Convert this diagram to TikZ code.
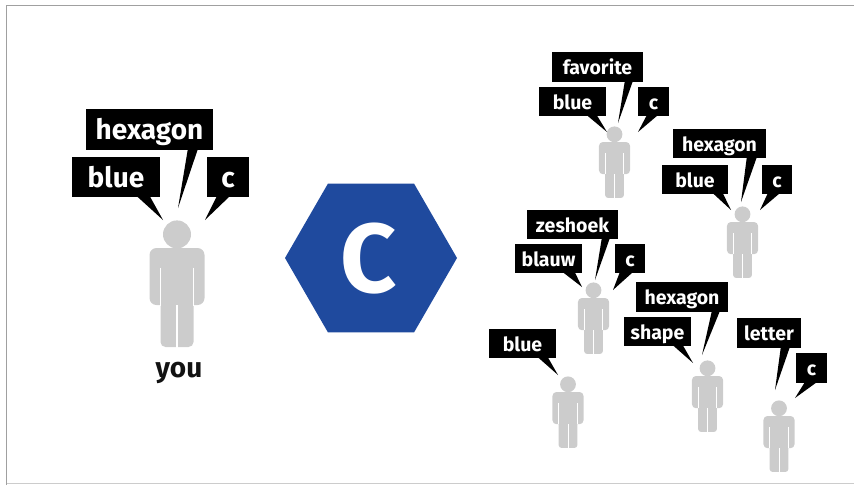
\documentclass[tikz,border=0pt]{standalone}
\usepackage{fontspec}
\setmainfont{Fira Sans}
\usetikzlibrary{calc,shapes.geometric}
\definecolor{figgray}{HTML}{CCCCCC}
\definecolor{hexblue}{RGB}{31,74,158}
\definecolor{framegray}{HTML}{A0A0A0}
\definecolor{framelight}{HTML}{CCCCCC}
\tikzset{
  callout/.style={fill=black, text=white, inner sep=0pt, align=center},
  bigcall/.style={callout, font=\fontsize{28}{30}\selectfont\bfseries, text height=20.5pt, text depth=0pt},
  smallcall/.style={callout, font=\fontsize{19.5}{22}\selectfont\bfseries, text height=15pt, text depth=0pt},
  wedge/.style={fill=black},
}
\newcommand\figperson[3]{%
  \begin{scope}[shift={(#1,#2)}, scale=#3]
    \fill[figgray] (0,-13.6) circle (14);
    \fill[figgray, rounded corners=#3*7pt] (-27.5,0) rectangle (27.5,57);
    \fill[figgray, rounded corners=#3*5pt] (-16.5,30) rectangle (16.5,99);
    \draw[white, line width=#3*1.3pt] (-16.5,19.5) -- (-16.5,57.5) (16.5,19.5) -- (16.5,57.5) (0,57) -- (0,99.5);
  \end{scope}}
\newcommand\wedgeto[4]{% box, offset1, offset2, tip
  \fill[wedge] ($(#1.south west)+(#2,-1)$) -- (#4) -- ($(#1.south west)+(#3,-1)$) -- cycle;}
\begin{document}
\begin{tikzpicture}[x=1pt, y=-1pt]
\useasboundingbox (0,0) rectangle (854,485);
% frame
\draw[framegray, line width=1.5pt] (6.5,485) -- (6.5,5.5) -- (854,5.5);
\draw[framelight, line width=1.2pt] (6.5,483.5) -- (854,483.5);

% main person
\figperson{177}{248}{1}
\node[font=\fontsize{28}{32}\selectfont\bfseries, text=black!93, anchor=base] (you) at (179,377) {you};
\node[bigcall, minimum width=127pt, minimum height=41pt] (m1) at (149.5,129.5) {hexagon};
\node[bigcall, minimum width=88pt, minimum height=40pt] (m2) at (116,177) {blue};
\node[bigcall, minimum width=42pt, minimum height=40pt] (m3) at (228,177) {c};
\coordinate (m1t) at (178,208);
\coordinate (m2t) at (163,220);
\coordinate (m3t) at (205,220);
\wedgeto{m1}{102}{112}{m1t}
\wedgeto{m2}{65}{78}{m2t}
\wedgeto{m3}{10}{23}{m3t}

% hexagon
\node[regular polygon, regular polygon sides=6, minimum size=172pt, fill=hexblue, inner sep=0pt] (hex) at (371,258) {};
\node[font=\fontsize{98}{100}\selectfont\bfseries, text=white, anchor=base, inner sep=0pt] (hexc) at (369,292) {C};

% crowd persons
\figperson{614.5}{142}{0.565}
\figperson{742.5}{222}{0.565}
\figperson{593.5}{298}{0.565}
\figperson{568}{392}{0.565}
\figperson{707.5}{376}{0.565}
\figperson{779}{416}{0.565}

% person A
\node[smallcall, minimum width=91pt, minimum height=30pt] (a1) at (597.5,67) {favorite};
\node[smallcall, minimum width=67pt, minimum height=29pt] (a2) at (572.5,101.5) {blue};
\node[smallcall, minimum width=31pt, minimum height=29pt] (a3) at (653.5,101.5) {c};
\coordinate (a1t) at (618,123);
\coordinate (a2t) at (607,132);
\coordinate (a3t) at (638,132);
\wedgeto{a1}{73}{81}{a1t}
\wedgeto{a2}{48}{58}{a2t}
\wedgeto{a3}{9}{20}{a3t}

% person B
\node[smallcall, minimum width=93pt, minimum height=29pt] (b1) at (719.5,143.5) {hexagon};
\node[smallcall, minimum width=66pt, minimum height=29pt] (b2) at (695,179.5) {blue};
\node[smallcall, minimum width=30pt, minimum height=29pt] (b3) at (777,179.5) {c};
\coordinate (b1t) at (741,202);
\coordinate (b2t) at (731,210);
\coordinate (b3t) at (760,210);
\wedgeto{b1}{74}{84}{b1t}
\wedgeto{b2}{51}{61}{b2t}
\wedgeto{b3}{6}{18}{b3t}

% person C
\node[smallcall, minimum width=91pt, minimum height=29pt] (c1) at (572.5,224.5) {zeshoek};
\node[smallcall, minimum width=67pt, minimum height=29pt] (c2) at (548.5,258.5) {blauw};
\node[smallcall, minimum width=30pt, minimum height=29pt] (c3) at (630,258.5) {c};
\coordinate (c1t) at (595,280);
\coordinate (c2t) at (582,287);
\coordinate (c3t) at (613,290);
\wedgeto{c1}{75}{83}{c1t}
\wedgeto{c2}{48}{60}{c2t}
\wedgeto{c3}{5}{18}{c3t}

% person D
\node[smallcall, minimum width=67pt, minimum height=29pt] (d1) at (522.5,343.5) {blue};
\coordinate (d1t) at (558,375);
\wedgeto{d1}{49}{59}{d1t}

% person E
\node[smallcall, minimum width=92pt, minimum height=30pt] (e1) at (682,297) {hexagon};
\node[smallcall, minimum width=67pt, minimum height=29pt] (e2) at (657.5,331.5) {shape};
\coordinate (e1t) at (702,355);
\coordinate (e2t) at (693,363);
\wedgeto{e1}{76}{84}{e1t}
\wedgeto{e2}{49}{59}{e2t}

% person F
\node[smallcall, minimum width=64pt, minimum height=30pt] (f1) at (769,333) {letter};
\node[smallcall, minimum width=31pt, minimum height=30pt] (f2) at (811.5,368) {c};
\coordinate (f1t) at (775,390);
\coordinate (f2t) at (795,398);
\wedgeto{f1}{44}{53}{f1t}
\wedgeto{f2}{9}{21}{f2t}
\end{tikzpicture}
\end{document}
